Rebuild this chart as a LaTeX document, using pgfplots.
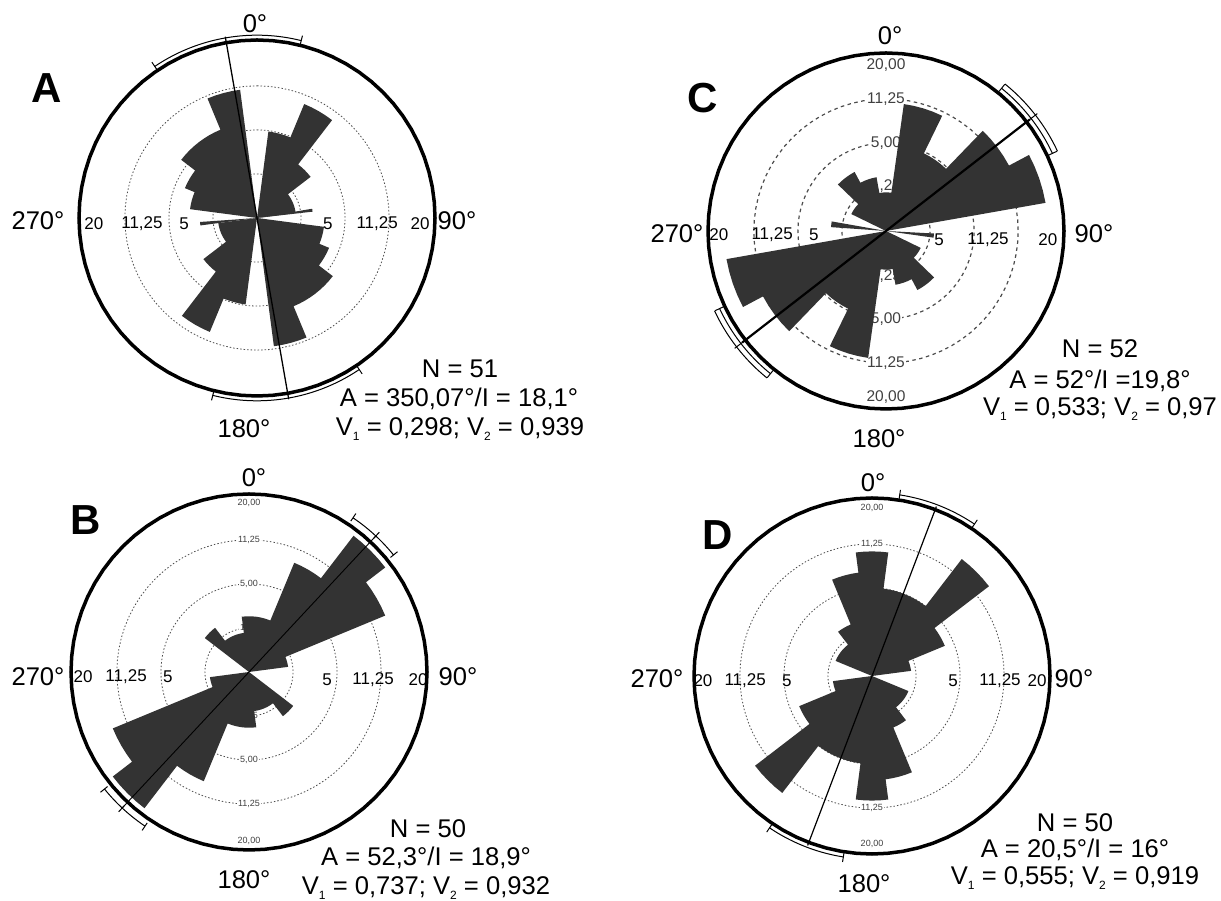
\documentclass[border=0pt]{standalone}
\usepackage{pgfplots}
\pgfplotsset{compat=1.18}
\usepackage{fontspec}
\setmainfont{Liberation Sans}

\definecolor{rosefill}{gray}{0.2}
\definecolor{ringcol}{gray}{0.3}
\definecolor{labcol}{gray}{0.25}

\newcommand{\sub}[1]{\raisebox{-0.35ex}{\fontsize{12}{12}\selectfont #1}}

% rose polygon: #1 first bin edge (compass deg), #2 bin width, #3 list of bin values (%)
\newcommand{\rose}[3]{%
  \gdef\rosepts{}%
  \foreach \vv [count=\i from 0] in {#3}{%
    \pgfmathsetmacro\rr{sqrt(\vv)}%
    \foreach \k in {0,0.25,0.5,0.75,1}{%
      \pgfmathsetmacro\aa{#1+(\i+\k)*#2}%
      \pgfmathsetmacro\xx{\rr*sin(\aa)}%
      \pgfmathsetmacro\yy{\rr*cos(\aa)}%
      \xdef\rosepts{\rosepts (\xx,\yy)}%
    }%
  }%
  \edef\doplot{\noexpand\addplot[fill=rosefill, draw=none, mark=none] coordinates {\rosepts};}%
  \doplot
}
% polyline through angle/radius pairs
\newcommand{\pline}[2]{%
  \gdef\plpts{}%
  \foreach \aa/\rr in {#2}{%
    \pgfmathsetmacro\xx{\rr*sin(\aa)}%
    \pgfmathsetmacro\yy{\rr*cos(\aa)}%
    \xdef\plpts{\plpts (\xx,\yy)}%
  }%
  \edef\doplot{\noexpand\addplot[#1] coordinates {\plpts};}\doplot
}
% arc: style, radius, a1, a2
\newcommand{\parc}[4]{%
  \gdef\plpts{}%
  \pgfmathsetmacro\astep{(#4-#3)/72}%
  \foreach \j in {0,...,72}{%
    \pgfmathsetmacro\aa{#3+\astep*\j}%
    \pgfmathsetmacro\xx{#2*sin(\aa)}%
    \pgfmathsetmacro\yy{#2*cos(\aa)}%
    \xdef\plpts{\plpts (\xx,\yy)}%
  }%
  \edef\doplot{\noexpand\addplot[#1] coordinates {\plpts};}\doplot
}
\newcommand{\bracket}[3]{%
  \parc{black, line width=1pt, mark=none}{#1}{#2}{#3}%
  \pgfmathsetmacro\bri{#1-0.1}\pgfmathsetmacro\bro{#1+0.13}%
  \pline{black, line width=1pt, mark=none}{#2/\bri, #2/\bro}%
  \pline{black, line width=1pt, mark=none}{#3/\bri, #3/\bro}%
}
\newcommand{\rings}[1]{%
  \parc{#1}{1.118}{0}{360}%
  \parc{#1}{2.236}{0}{360}%
  \parc{#1}{3.354}{0}{360}%
}
\newcommand{\outercircle}{\parc{black, line width=3.5pt, mark=none, line join=round}{4.518}{0}{360}}

\pgfplotsset{roseaxis/.style={scale only axis, width=394pt, height=394pt,
  xmin=-5, xmax=5, ymin=-5, ymax=5, hide axis, clip=false}}
\tikzset{
  hl/.style={font=\fontsize{17}{20}\selectfont, inner sep=0pt},
  vls/.style={font=\fontsize{9}{10}\selectfont, text=labcol, fill=white, inner sep=0.8pt},
  vlc/.style={font=\fontsize{15.5}{17}\selectfont, text=labcol, fill=white, inner sep=0.8pt},
  big/.style={font=\fontsize{25.6}{30}\selectfont, anchor=base, inner sep=0pt},
  let/.style={font=\fontsize{42}{42}\selectfont\bfseries, anchor=base, inner sep=0pt}
}

\begin{document}
\begin{tikzpicture}
\useasboundingbox (0,0) rectangle (1221pt,901pt);

%%%%%%%%%%%%%%%% A
\begin{axis}[roseaxis, at={(257pt,683pt)}, anchor=center]
\rings{ringcol, line width=0.8pt, dash pattern=on 1.5pt off 2pt, mark=none}
\node[hl] at (axis cs:-4.14,-0.15) {20};
\node[hl] at (axis cs:-2.92,-0.15) {11,25};
\node[hl] at (axis cs:-1.85,-0.15) {5};
\node[hl] at (axis cs:1.80,-0.15) {5};
\node[hl] at (axis cs:3.05,-0.15) {11,25};
\node[hl] at (axis cs:4.14,-0.15) {20};
\rose{352.5}{15}{0,4.9,9.8,2.94,0.98,0.98,0,2.94,3.92,5.88,5.88,10.78,0,4.9,9.8,2.94,0.98,0.98,0,2.94,3.92,5.88,5.88,10.78}
\pline{fill=rosefill, draw=none, mark=none}{0/0, 80.5/1.42, 83.5/1.42}
\pline{fill=rosefill, draw=none, mark=none}{0/0, 262.5/1.45, 266/1.45}
\pline{black, line width=1.3pt, mark=none}{350.07/4.67, 170.07/4.67}
\outercircle
\bracket{4.64}{326}{374}
\bracket{4.64}{146}{194}
\end{axis}

%%%%%%%%%%%%%%%% B
\begin{axis}[roseaxis, at={(249pt,229pt)}, anchor=center]
\rings{ringcol, line width=0.8pt, dash pattern=on 1.5pt off 2pt, mark=none}
\node[hl] at (axis cs:-4.21,-0.12) {20};
\node[hl] at (axis cs:-3.12,-0.12) {11,25};
\node[hl] at (axis cs:-2.06,-0.12) {5};
\node[hl] at (axis cs:1.98,-0.2) {5};
\node[hl] at (axis cs:3.15,-0.2) {11,25};
\node[hl] at (axis cs:4.29,-0.2) {20};
\node[vls] at (axis cs:0,4.3) {20,00};
\node[vls] at (axis cs:0,3.354) {11,25};
\node[vls] at (axis cs:0,2.236) {5,00};
\node[vls] at (axis cs:0,1.118) {1,25};
\node[vls] at (axis cs:0,-1.118) {1,25};
\node[vls] at (axis cs:0,-2.236) {5,00};
\node[vls] at (axis cs:0,-3.354) {11,25};
\node[vls] at (axis cs:0,-4.3) {20,00};
\rose{352.5}{15}{2,2,9,19,14,1,0,0,0,2,1,1,2,2,9,19,14,1,0,0,0,2,1,1}
\pline{black, line width=0.9pt, mark=none}{43/4.75, 223/4.75}
\outercircle
\bracket{4.72}{34}{51}
\bracket{4.72}{214}{231}
\pline{black, line width=1pt, mark=none}{43/4.62, 43/4.85}
\pline{black, line width=1pt, mark=none}{223/4.62, 223/4.85}
\end{axis}

%%%%%%%%%%%%%%%% C
\begin{axis}[roseaxis, at={(886pt,670pt)}, anchor=center]
\rings{ringcol, line width=1.2pt, dash pattern=on 3.5pt off 3.5pt, mark=none}
\node[hl] at (axis cs:-4.24,-0.1) {20};
\node[hl] at (axis cs:-2.89,-0.1) {11,25};
\node[hl] at (axis cs:-1.83,-0.1) {5};
\node[hl] at (axis cs:1.35,-0.22) {5};
\node[hl] at (axis cs:2.59,-0.22) {11,25};
\node[hl] at (axis cs:4.11,-0.22) {20};
\node[vlc] at (axis cs:0,4.22) {20,00};
\node[vlc] at (axis cs:0,3.354) {11,25};
\node[vlc] at (axis cs:0,2.236) {5,00};
\node[vlc] at (axis cs:0,1.15) {1,25};
\node[vlc] at (axis cs:0,-1.15) {1,25};
\node[vlc] at (axis cs:0,-2.236) {5,00};
\node[vlc] at (axis cs:0,-3.354) {11,25};
\node[vlc] at (axis cs:0,-4.22) {20,00};
\rose{8}{18}{10.58,4.81,12.5,16.9,0,0,0.96,2.88,1.92,0.96,10.58,4.81,12.5,16.9,0,0,0.96,2.88,1.92,0.96}
\pline{fill=rosefill, draw=none, mark=none}{0/0, 93/1.22, 98/1.22}
\pline{fill=rosefill, draw=none, mark=none}{0/0, 274/1.40, 280/1.40}
\pline{black, line width=2.2pt, mark=none}{52.2/4.62, 232.2/4.62}
\outercircle
\bracket{4.66}{39}{65}
\bracket{4.66}{219}{245}
\parc{black, line width=1pt, mark=none}{4.8}{39}{65}
\parc{black, line width=1pt, mark=none}{4.8}{219}{245}
\pline{black, line width=1pt, mark=none}{52.2/4.6, 52.2/4.86}
\pline{black, line width=1pt, mark=none}{232.2/4.6, 232.2/4.86}
\end{axis}

%%%%%%%%%%%%%%%% D
\begin{axis}[roseaxis, at={(872pt,225pt)}, anchor=center]
\rings{ringcol, line width=0.8pt, dash pattern=on 1.5pt off 2pt, mark=none}
\node[hl] at (axis cs:-4.29,-0.13) {20};
\node[hl] at (axis cs:-3.22,-0.13) {11,25};
\node[hl] at (axis cs:-2.16,-0.13) {5};
\node[hl] at (axis cs:2.06,-0.13) {5};
\node[hl] at (axis cs:3.25,-0.13) {11,25};
\node[hl] at (axis cs:4.19,-0.13) {20};
\node[vls] at (axis cs:0,4.27) {20,00};
\node[vls] at (axis cs:0,3.354) {11,25};
\node[vls] at (axis cs:0,2.236) {5,00};
\node[vls] at (axis cs:0,1.118) {1,25};
\node[vls] at (axis cs:0,-1.118) {1,25};
\node[vls] at (axis cs:0,-2.236) {5,00};
\node[vls] at (axis cs:0,-3.354) {11,25};
\node[vls] at (axis cs:0,-4.27) {20,00};
\rose{352.5}{15}{10,5,5,14,4,1,0,0,1,1,2,7,10,5,5,14,4,1,0,0,1,1,2,7}
\pline{black, line width=1.2pt, mark=none}{20.8/4.6, 200.8/4.6}
\outercircle
\bracket{4.65}{8.7}{34}
\bracket{4.65}{189}{214}
\end{axis}

%%%%%%%%%%%%%%%% texts
\node[let] at (47pt,798pt) {A};
\node[let] at (86pt,366pt) {B};
\node[let] at (703pt,788pt) {C};
\node[let] at (718pt,351pt) {D};

\node[big] at (255pt,868pt) {0°};
\node[big] at (38pt,671pt) {270°};
\node[big] at (457pt,671pt) {90°};
\node[big] at (244pt,463pt) {180°};

\node[big] at (254pt,414pt) {0°};
\node[big] at (38pt,215pt) {270°};
\node[big] at (458pt,215pt) {90°};
\node[big] at (244pt,12pt) {180°};

\node[big] at (890pt,856pt) {0°};
\node[big] at (677pt,658pt) {270°};
\node[big] at (1094pt,658pt) {90°};
\node[big] at (879pt,453pt) {180°};

\node[big] at (873pt,409pt) {0°};
\node[big] at (657pt,213pt) {270°};
\node[big] at (1074pt,213pt) {90°};
\node[big] at (864pt,8pt) {180°};

\node[big] at (460pt,523pt) {N = 51};
\node[big] at (459pt,494pt) {A = 350,07°/I = 18,1°};
\node[big] at (460pt,465pt) {V\sub{1} = 0,298; V\sub{2} = 0,939};

\node[big] at (428pt,63pt) {N = 50};
\node[big] at (426pt,35pt) {A = 52,3°/I = 18,9°};
\node[big] at (426pt,6pt) {V\sub{1} = 0,737; V\sub{2} = 0,932};

\node[big] at (1100pt,543pt) {N = 52};
\node[big] at (1100pt,512pt) {A = 52°/I =19,8°};
\node[big] at (1100pt,485pt) {V\sub{1} = 0,533; V\sub{2} = 0,97};

\node[big] at (1075pt,69pt) {N = 50};
\node[big] at (1075pt,43pt) {A = 20,5°/I = 16°};
\node[big] at (1075pt,16pt) {V\sub{1} = 0,555; V\sub{2} = 0,919};
\end{tikzpicture}
\end{document}
